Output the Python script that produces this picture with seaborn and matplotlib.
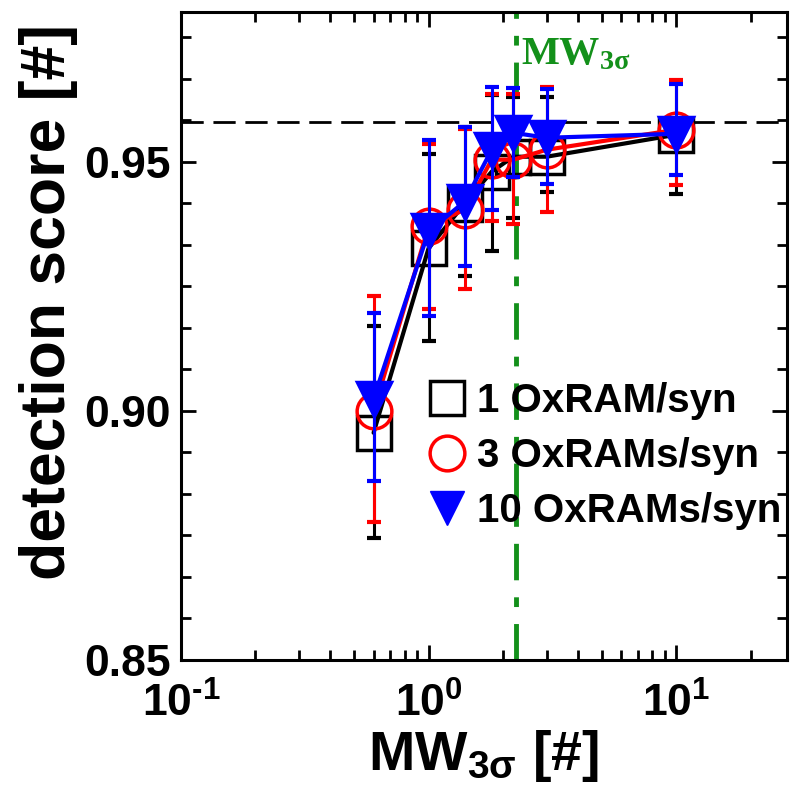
import numpy as np
import pandas as pd
import matplotlib
matplotlib.use("Agg")
import matplotlib.pyplot as plt
import seaborn as sns
from matplotlib.lines import Line2D
from matplotlib.ticker import MultipleLocator, LogLocator, FixedLocator, NullFormatter

# ---- data ----
mw = [0.6, 1.0, 1.4, 1.8, 2.2, 3.0, 10.0]

score_1 = [0.8956, 0.9326, 0.9416, 0.9480, 0.9510, 0.9510, 0.9554]
lo_1 = [0.8744, 0.9140, 0.9270, 0.9320, 0.9386, 0.9440, 0.9436]
hi_1 = [0.9170, 0.9516, 0.9570, 0.9634, 0.9630, 0.9630, 0.9660]

score_3 = [0.9000, 0.9370, 0.9404, 0.9504, 0.9504, 0.9524, 0.9564]
lo_3 = [0.8776, 0.9204, 0.9244, 0.9380, 0.9374, 0.9400, 0.9454]
hi_3 = [0.9230, 0.9536, 0.9565, 0.9635, 0.9635, 0.9650, 0.9664]

score_10 = [0.9024, 0.9360, 0.9420, 0.9524, 0.9558, 0.9548, 0.9556]
lo_10 = [0.8860, 0.9190, 0.9290, 0.9404, 0.9470, 0.9456, 0.9474]
hi_10 = [0.9196, 0.9544, 0.9570, 0.9650, 0.9648, 0.9646, 0.9656]

labels = ["1 OxRAM/syn", "3 OxRAMs/syn", "10 OxRAMs/syn"]
xtick_labels = [r"$10^{‐1}$", r"$10^{0}$", r"$10^{1}$"]
ytick_labels = ["0.85", "0.90", "0.95"]
mw_3sigma = 2.26
score_ref = 0.958

# ---- style ----
sns.set_style("ticks")
plt.rcParams["font.family"] = ["Liberation Sans", "DejaVu Sans"]
plt.rcParams["font.weight"] = "bold"
plt.rcParams["text.color"] = "black"
plt.rcParams["axes.labelcolor"] = "black"
plt.rcParams["axes.edgecolor"] = "black"
plt.rcParams["xtick.color"] = "black"
plt.rcParams["ytick.color"] = "black"
plt.rcParams["mathtext.fontset"] = "custom"
plt.rcParams["mathtext.rm"] = "Liberation Sans:bold"
plt.rcParams["mathtext.it"] = "Liberation Sans:bold"
plt.rcParams["mathtext.bf"] = "Liberation Serif:bold"
plt.rcParams["mathtext.default"] = "rm"
plt.rcParams["axes.linewidth"] = 2.2

fig = plt.figure(figsize=(7.9, 7.91), dpi=100)
ax = fig.add_axes([0.229, 0.1656, 0.767, 0.819])
ax.set_xscale("log")


def long_table(score, lo, hi):
    # three rows per x: the median gives the point, min/max give the bar
    return pd.DataFrame({
        "mw": mw * 3,
        "score": list(lo) + list(score) + list(hi),
    })


series = [
    (score_1, lo_1, hi_1, "black", "s", "none"),
    (score_3, lo_3, hi_3, "red", "o", "none"),
    (score_10, lo_10, hi_10, "blue", "v", "blue"),
]

for score, lo, hi, col, mk, fc in series:
    sns.lineplot(
        data=long_table(score, lo, hi), x="mw", y="score",
        estimator=np.median, errorbar=lambda v: (v.min(), v.max()),
        err_style="bars", color=col, marker=mk, markersize=25,
        markerfacecolor=fc, markeredgecolor=col, markeredgewidth=2.5,
        linewidth=3, ax=ax,
        err_kws=dict(capsize=5, elinewidth=2.2, capthick=3),
    )

ax.axhline(score_ref, color="black", lw=2, dashes=(8, 3.5), zorder=1)
ax.axvline(mw_3sigma, color="#13901a", lw=3.5, dashes=(7.5, 3.5, 2, 3.5), zorder=1)
ax.text(2.37, 0.9696, r"$\mathbf{MW_{3σ}}$", color="#13901a", fontsize=29)

ax.set_xlim(0.1, 28)
ax.set_ylim(0.85, 0.98)

ax.xaxis.set_major_locator(FixedLocator([0.1, 1, 10]))
ax.set_xticklabels(xtick_labels)
ax.xaxis.set_minor_locator(LogLocator(base=10, subs=np.arange(2, 10)))
ax.xaxis.set_minor_formatter(NullFormatter())
ax.yaxis.set_major_locator(FixedLocator([0.85, 0.90, 0.95]))
ax.set_yticklabels(ytick_labels)
ax.yaxis.set_minor_locator(MultipleLocator(0.05 / 6))

ax.tick_params(which="both", direction="in", top=True, right=True, width=2)
ax.tick_params(which="major", length=11, labelsize=32)
ax.tick_params(axis="y", which="major", pad=7)
ax.tick_params(axis="x", which="major", pad=16)
ax.tick_params(which="minor", length=7)

ax.set_xlabel(r"MW$_{3σ}$ [#]", fontsize=40, fontweight="bold", labelpad=2)
ax.set_ylabel("detection score [#]", fontsize=45, fontweight="bold")
ax.yaxis.set_label_coords(-0.17, 0.552)

handles = [
    Line2D([], [], ls="none", marker="s", ms=25, mfc="none", mec="black", mew=2.5),
    Line2D([], [], ls="none", marker="o", ms=25, mfc="none", mec="red", mew=2.5),
    Line2D([], [], ls="none", marker="v", ms=25, mfc="blue", mec="blue"),
]
ax.legend(handles, labels, loc="upper left", bbox_to_anchor=(0.373, 0.46),
          frameon=False, fontsize=29, handlelength=1.0, handletextpad=0.25,
          labelspacing=0.42, borderpad=0)

fig.savefig("out.png", dpi=100)
